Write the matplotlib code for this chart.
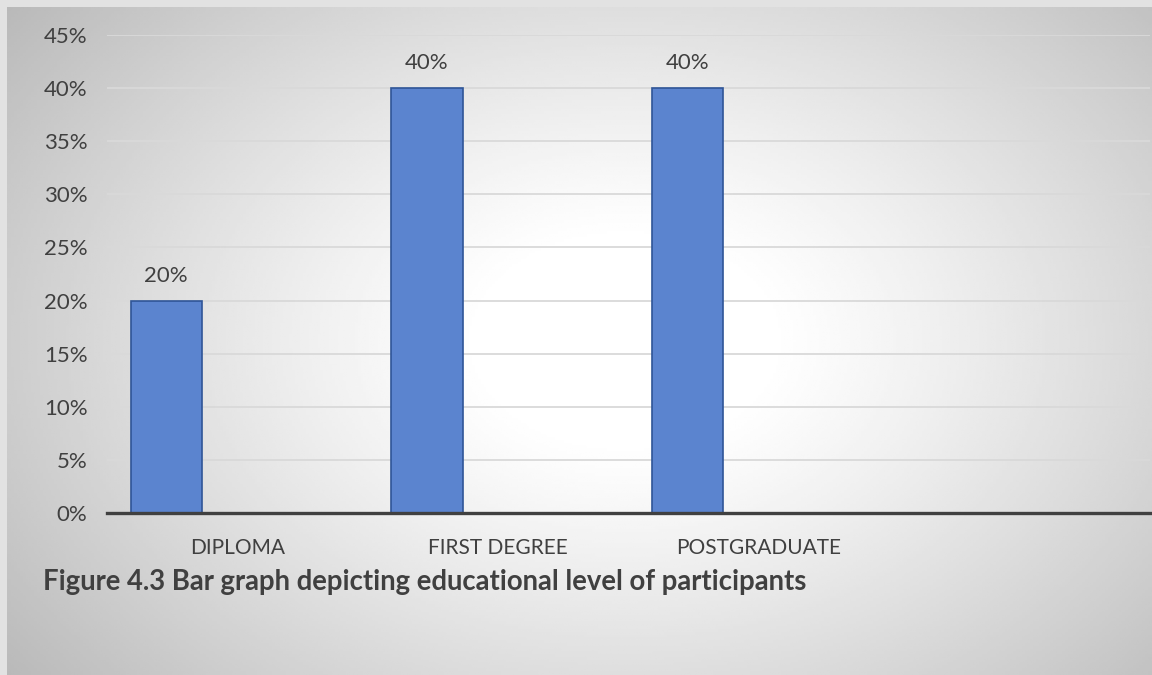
import numpy as np
import matplotlib
matplotlib.use("Agg")
import matplotlib.pyplot as plt
from matplotlib.ticker import PercentFormatter

categories = ["DIPLOMA", "FIRST DEGREE", "POSTGRADUATE", ""]
values = [0.20, 0.40, 0.40]
value_labels = ["20%", "40%", "40%"]
yticks = [0, 0.05, 0.10, 0.15, 0.20, 0.25, 0.30, 0.35, 0.40, 0.45]
caption = "Figure 4.3 Bar graph depicting educational level of participants"

plt.rcParams['font.family'] = ['Lato', 'DejaVu Sans']
W, H = 1152, 675
fig = plt.figure(figsize=(W / 100, H / 100), dpi=100)
fig.patch.set_facecolor('#e2e2e2')

# radial gradient background
bg = fig.add_axes([7 / W, 0, 1 - 7 / W, 1 - 7 / H], zorder=-5)
xs = np.linspace(0, 1, 400)
ys = np.linspace(0, 1, 240)
X, Y = np.meshgrid(xs, ys)
cx, cy = 0.54, 0.50
r = np.sqrt(((X - cx) / 0.62) ** 2 + ((Y - cy) / 0.75) ** 2)
t = np.clip((r - 0.2) / 0.8, 0, 1.3)
g = 1.0 - 0.24 * t ** 1.15
bg.imshow(g, cmap='gray', vmin=0, vmax=1, extent=[0, 1, 0, 1], aspect='auto', origin='lower')
bg.axis('off')

ax = fig.add_axes([107 / W, 162 / H, (1150 - 107) / W, (640 - 162) / H])
ax.set_facecolor('none')
n = len(categories)
x = np.arange(n)
bw = 0.273
ax.bar(x[:len(values)] - bw, values, width=bw, color='#5b84cf', edgecolor='#2f5597', linewidth=1.2, zorder=3)
for xi, v, lab in zip(x, values, value_labels):
    ax.text(xi - bw, v + 0.014, lab, ha='center', va='bottom', fontsize=16, color='#404040')

ax.set_xlim(-0.5, n - 0.5)
ax.set_ylim(0, 0.45)
ax.set_yticks(yticks)
ax.yaxis.set_major_formatter(PercentFormatter(1.0, decimals=0))
ax.set_xticks(x)
ax.set_xticklabels(categories)
ax.tick_params(axis='y', length=0, labelsize=16, colors='#404040', pad=14)
ax.tick_params(axis='x', length=0, labelsize=15, colors='#404040', pad=18)
ax.grid(axis='y', color='#d9d9d9', linewidth=1.3, zorder=0)
for s in ['top', 'right', 'left']:
    ax.spines[s].set_visible(False)
ax.spines['bottom'].set_color('#404040')
ax.spines['bottom'].set_linewidth(2.4)
ax.spines['bottom'].set_zorder(4)

fig.text(43 / W, 1 - 582 / H, caption, fontsize=19.8, fontweight='bold', color='#404040', ha='left', va='center')

fig.savefig('out.png', dpi=100)
